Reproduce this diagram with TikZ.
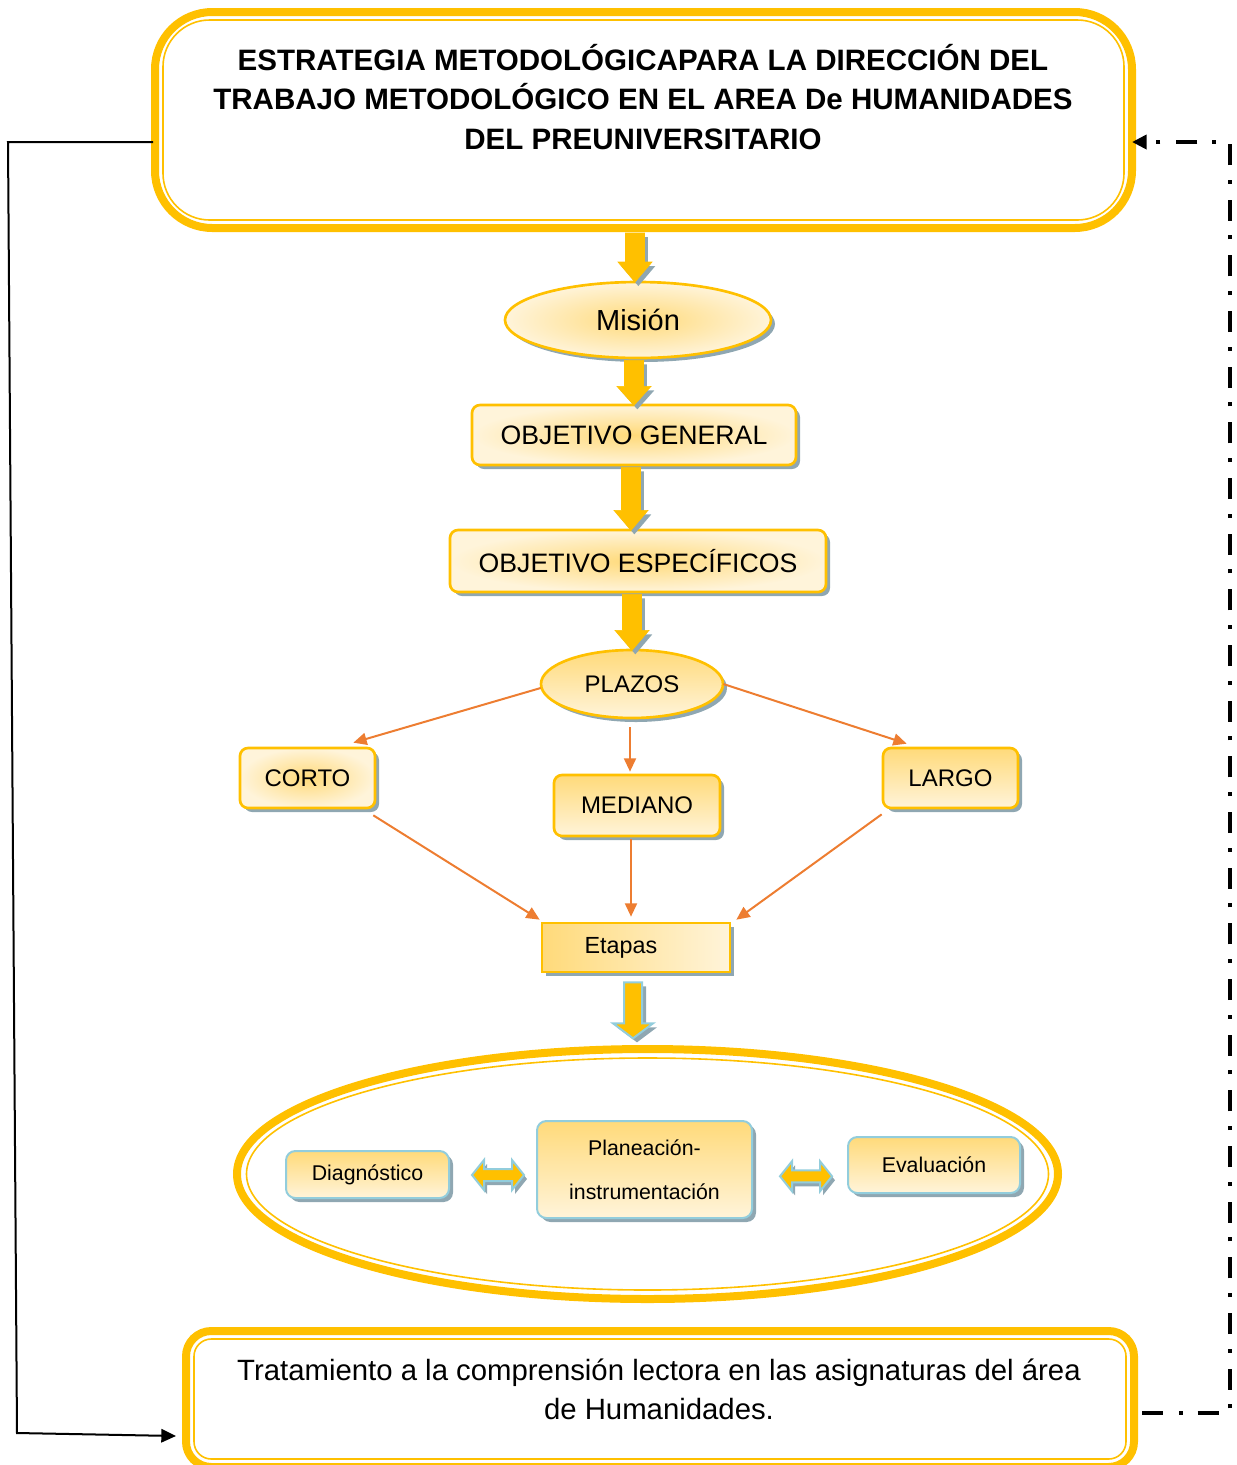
\documentclass[tikz,border=0pt]{standalone}
\usepackage{fontspec}
\setmainfont{Liberation Sans}
\usetikzlibrary{shapes.geometric,arrows.meta,calc,shadows}
\definecolor{gold}{HTML}{FFC000}
\definecolor{orng}{HTML}{ED7D31}
\definecolor{shad}{HTML}{8FA7B2}
\definecolor{lblue}{HTML}{92CDDC}
\definecolor{fdark}{HTML}{FFDA7A}
\definecolor{flight}{HTML}{FFF4DA}
% yellow block arrow pointing down: #1 start (top centre), #2 shaft length, #3 head length
\newcommand\ydown[3]{%
  \fill[shad,transform canvas={shift={(2.5pt,-3pt)}}] #1 ++(-9.5,0) -- ++(19,0) -- ++(0,#2) -- ++(7.5,0) -- ++(-17,#3) -- ++(-17,-#3) -- ++(7.5,0) -- cycle;
  \filldraw[fill=gold,draw=gold,line width=0.5pt] #1 ++(-9.5,0) -- ++(19,0) -- ++(0,#2) -- ++(7.5,0) -- ++(-17,#3) -- ++(-17,-#3) -- ++(7.5,0) -- cycle;}
% double headed block arrow centred at #1
\newcommand\ydouble[1]{%
  \begin{scope}[shift={#1}]
    \begin{scope}[shift={(3,4)}]
      \fill[shad] (-26,0) -- (-14,-15) -- (-14,-6) -- (14,-6) -- (14,-15) -- (26,0) -- (14,15) -- (14,6) -- (-14,6) -- (-14,15) -- cycle;
    \end{scope}
    \filldraw[fill=gold,draw=lblue,line width=1.5pt,line join=miter] (-26,0) -- (-14,-15) -- (-14,-6) -- (14,-6) -- (14,-15) -- (26,0) -- (14,15) -- (14,6) -- (-14,6) -- (-14,15) -- cycle;
  \end{scope}}
\begin{document}
\begin{tikzpicture}[x=0.75pt,y=-0.75pt,
  shd/.style={drop shadow={shadow xshift=3pt,shadow yshift=-3pt,fill=shad,opacity=1}},
  ybox/.style={rectangle,rounded corners=6pt,draw=gold,line width=2pt,top color=fdark,bottom color=flight,shd,inner sep=0pt,font=\fontsize{18}{21}\selectfont},
  yradial/.style={rectangle,rounded corners=6pt,draw=gold,line width=2pt,inner color=fdark,outer color=flight,shd,inner sep=0pt,font=\fontsize{18}{21}\selectfont},
  yell/.style={ellipse,draw=gold,line width=2pt,inner color=fdark,outer color=flight,shd,inner sep=0pt},
  bbox/.style={rectangle,rounded corners=7pt,draw=lblue,line width=1.5pt,top color=fdark,bottom color=flight,shd,inner sep=0pt,font=\fontsize{16}{19}\selectfont},
  oarr/.style={draw=orng,line width=1.5pt,-{Triangle[length=10pt,width=9pt]}},
  bigframe/.style={draw=gold,line width=6pt,inner sep=0pt},
  thinframe/.style={draw=gold,line width=1.2pt}]
\useasboundingbox (0,0) rectangle (1237,1465);

% ---------- title box ----------
\node[bigframe,rounded corners=43pt,minimum width=732.75pt,minimum height=162pt] (titlebox) at (643.5,120) {};
\draw[thinframe,rounded corners=35pt] ($(titlebox.north west)+(12,12)$) rectangle ($(titlebox.south east)+(-12,-12)$);
\node[font=\bfseries\fontsize{22.15}{29.6}\selectfont,align=center] (title) at (643,97)
  {ESTRATEGIA METODOLÓGICAPARA LA DIRECCIÓN DEL\\TRABAJO METODOLÓGICO EN EL AREA De HUMANIDADES\\DEL PREUNIVERSITARIO};

% ---------- main chain ----------
\node[yell,minimum width=199.5pt,minimum height=57pt,font=\fontsize{21.75}{26}\selectfont] (mis) at (638,320) {Misión};
\node[yradial,minimum width=243pt,minimum height=45pt,font=\fontsize{20}{24}\selectfont] (og) at (634,435) {OBJETIVO GENERAL};
\node[yradial,minimum width=282pt,minimum height=46.5pt,font=\fontsize{20}{24}\selectfont] (oe) at (638,561) {OBJETIVO ESPECÍFICOS};
\node[yell,minimum width=136.5pt,minimum height=51pt,font=\fontsize{18}{21}\selectfont,top color=fdark,bottom color=flight] (plz) at (632,684) {PLAZOS};
\node[yradial,minimum width=101.25pt,minimum height=45pt] (corto) at (307.5,778) {CORTO};
\node[ybox,minimum width=124.5pt,minimum height=45.75pt] (med) at (637,805.5) {MEDIANO};
\node[ybox,minimum width=101.25pt,minimum height=45pt] (largo) at (950.5,778) {LARGO};
\node[ybox,sharp corners,minimum width=141pt,minimum height=36.75pt,left color=fdark,right color=flight,font=\fontsize{17.5}{21}\selectfont] (etapas) at (636,947.5) {\raisebox{-2.5pt}{Etapas}\hspace*{22.5pt}};

% block arrows
\ydown{($(titlebox.south -| mis.north)+(-3,1)$)}{29}{20}
\ydown{($(mis.south)+(-4,1)$)}{26}{19}
\ydown{($(og.south)+(-3,1)$)}{43}{20}
\ydown{($(oe.south)+(-6,1)$)}{36}{20}

% orange arrows
\draw[oarr] ($(plz.west)+(1,4)$) -- ($(corto.north east)+(-23,-4)$);
\draw[oarr] ($(plz.south)+(-2,8)$) -- ($(plz.south |- med.north)+(-2,-2)$);
\draw[oarr] ($(plz.east)+(-1,0)$) -- ($(largo.north west)+(25,-3)$);
\draw[oarr] ($(corto.south east)+(-3,6)$) -- ($(etapas.north west)+(-1,-2)$);
\draw[oarr] ($(med.south)+(-6,2)$) -- ($(med.south |- etapas.north)+(-6,-5)$);
\draw[oarr] ($(largo.south west)+(0,5)$) -- ($(etapas.north east)+(5,-2)$);

% ---------- stages ellipse ----------
\node[ellipse,bigframe,minimum width=615.75pt,minimum height=187.5pt] (stages) at (647.5,1174) {};
\draw[thinframe] (stages.center) ellipse [x radius=401, y radius=116];

% arrow Etapas -> stages
\fill[shad,transform canvas={shift={(3pt,-3pt)}}] ($(etapas.south)+(-3,9)$) ++(-9,0) -- ++(18,0) -- ++(0,41) -- ++(11,0) -- ++(-20,15) -- ++(-20,-15) -- ++(11,0) -- cycle;
\filldraw[fill=gold,draw=lblue,line width=1.5pt] ($(etapas.south)+(-3,9)$) ++(-9,0) -- ++(18,0) -- ++(0,41) -- ++(11,0) -- ++(-20,15) -- ++(-20,-15) -- ++(11,0) -- cycle;

\node[bbox,minimum width=122.25pt,minimum height=35.25pt] (diag) at (367.5,1174.5) {Diagnóstico};
\node[bbox,minimum width=161.25pt,minimum height=72.75pt,align=center,font=\fontsize{16}{33}\selectfont] (plan) at (644.5,1169.5) {Planeación-\\instrumentación};
\node[bbox,minimum width=129pt,minimum height=42pt] (eval) at (934,1165) {Evaluación};

\ydouble{($(diag.east)!0.5!(plan.west)+(5,3)$)}
\ydouble{($(plan.east)!0.5!(eval.west)+(6,9)$)}

% ---------- bottom box ----------
\node[bigframe,rounded corners=19pt,minimum width=711pt,minimum height=102pt] (bot) at (660,1399) {};
\draw[thinframe,rounded corners=13pt] ($(bot.north west)+(12,12)$) rectangle ($(bot.south east)+(-12,-12)$);
\node[font=\fontsize{22}{29.25}\selectfont,align=center] (bottext) at (659,1389)
  {Tratamiento a la comprensión lectora en las asignaturas del área\\de Humanidades.};

% ---------- feedback connectors ----------
\coordinate (l1) at (8,142);
\coordinate (l2) at (17,1433);
\draw[line width=1.5pt,-{Triangle[length=11pt,width=10pt]}] ($(titlebox.west)+(2,22)$) -- (l1) -- (l2) -- ($(bot.west)+(-6,37)$);

\coordinate (r1) at (1230,1413);
\coordinate (r2) at (1230,142);
\draw[line width=3.2pt,dash pattern=on 15.75pt off 12pt on 3pt off 11pt,-{Triangle[length=11pt,width=10.5pt]}] ($(bot.east)+(4,14)$) -- (r1) -- (r2) -- ($(titlebox.east)+(-4,22)$);
\end{tikzpicture}
\end{document}
